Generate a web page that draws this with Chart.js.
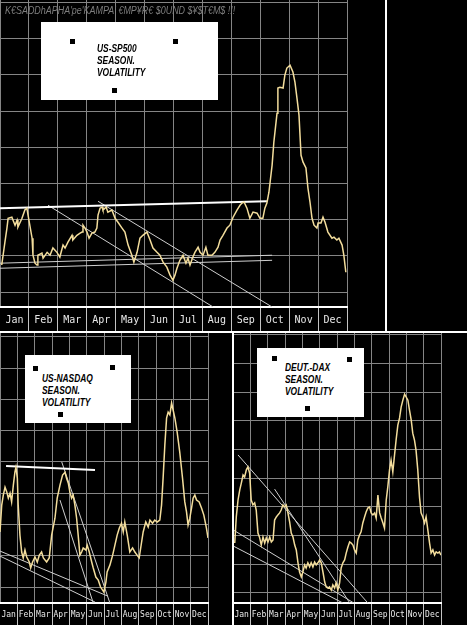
<!doctype html>
<html lang="en">
<head>
<meta charset="utf-8">
<title>Seasonal Volatility: US-SP500, US-NASDAQ, DEUT.-DAX</title>
<style>
* { margin: 0; padding: 0; }
body {
  background: #000;
  width: 467px;
  height: 625px;
  overflow: hidden;
  position: relative;
}
canvas { position: absolute; }
#spx { left: 0; top: 0; }
#ndx { left: 0; top: 333px; }
#dax { left: 233px; top: 333px; }
.rule { position: absolute; background: #fff; }
.head {
  position: absolute; left: 5px; top: 5px;
  font: italic 10px "Liberation Sans", sans-serif;
  color: #7d7d7d; white-space: nowrap;
  transform: scaleX(0.895); transform-origin: left top;
}
.box { position: absolute; background: #fff; }
.box p {
  position: absolute;
  font: italic bold 10.5px "Liberation Sans", sans-serif;
  line-height: 12px; color: #000; white-space: nowrap;
  transform: scaleX(0.8); transform-origin: left top;
}
.sq { position: absolute; width: 5px; height: 5px; background: #000; }
</style>
</head>
<body>
<canvas id="spx" width="385" height="331"></canvas>
<canvas id="ndx" width="232" height="292"></canvas>
<canvas id="dax" width="234" height="292"></canvas>

<div class="rule" style="left:385px; top:0; width:2px; height:331px;"></div>
<div class="rule" style="left:0; top:331px; width:467px; height:2px;"></div>
<div class="rule" style="left:232px; top:333px; width:2px; height:292px;"></div>

<div class="head">K€SADDhAPHA'pe'KAMPA' €MP¥R€ $0UND $¥$T€M$ !!!</div>

<div class="box" style="left:41px; top:22px; width:177px; height:78px;">
  <div class="sq" style="left:29px; top:17px;"></div>
  <div class="sq" style="left:132px; top:17px;"></div>
  <div class="sq" style="left:71px; top:66px;"></div>
  <p style="left:56px; top:20px;">US-SP500<br>SEASON.<br>VOLATILITY</p>
</div>
<div class="box" style="left:25px; top:355px; width:106px; height:68px;">
  <div class="sq" style="left:8px; top:11px;"></div>
  <div class="sq" style="left:85px; top:10px;"></div>
  <div class="sq" style="left:33px; top:57px;"></div>
  <p style="left:17px; top:17px;">US-NASDAQ<br>SEASON.<br>VOLATILITY</p>
</div>
<div class="box" style="left:257px; top:348px; width:107px; height:69px;">
  <div class="sq" style="left:15px; top:8px;"></div>
  <div class="sq" style="left:90px; top:9px;"></div>
  <div class="sq" style="left:48px; top:58px;"></div>
  <p style="left:28px; top:13px;">DEUT.-DAX<br>SEASON.<br>VOLATILITY</p>
</div>

<script src="https://cdn.jsdelivr.net/npm/chart.js@4"></script>
<script>
// month names on the label row, x runs in months 0..12
const months = ['Jan', 'Feb', 'Mar', 'Apr', 'May', 'Jun', 'Jul', 'Aug', 'Sep', 'Oct', 'Nov', 'Dec'];
const monthEdges = [0, 1, 2, 3, 4, 5, 6, 7, 8, 9, 10, 11, 12];

// US-SP500 seasonal volatility
const spxX = [0.06,0.17,0.24,0.28,0.41,0.52,0.59,0.62,0.76,0.86,
  0.93,0.97,1.11,1.14,1.21,1.28,1.31,1.45,1.49,1.63,
  1.73,1.83,1.97,2.07,2.18,2.25,2.35,2.49,2.52,2.66,
  2.77,2.84,2.87,2.94,3.01,3.08,3.18,3.28,3.35,3.39,
  3.46,3.53,3.56,3.67,3.73,3.87,3.98,4.08,4.22,4.32,
  4.43,4.56,4.63,4.74,4.84,4.94,5.08,5.19,5.29,5.43,
  5.53,5.64,5.77,5.88,5.98,6.05,6.12,6.22,6.33,6.43,
  6.50,6.57,6.67,6.74,6.85,6.92,7.02,7.12,7.19,7.33,
  7.43,7.54,7.61,7.71,7.85,7.95,8.06,8.20,8.30,8.37,
  8.44,8.54,8.64,8.75,8.89,8.99,9.09,9.16,9.23,9.30,
  9.41,9.47,9.58,9.61,9.68,9.79,9.85,9.92,10.03,10.13,
  10.20,10.27,10.34,10.41,10.48,10.58,10.65,10.72,10.79,10.86,
  10.96,11.00,11.10,11.17,11.24,11.34,11.48,11.55,11.65,11.72,
  11.83,11.89,11.96];
const spxY = [7.5,13.8,17.7,20.4,20.7,18.5,19.9,18.0,20.4,22.7,
  23.2,21.3,14.9,10.2,8.0,7.5,10.2,10.8,9.4,11.0,
  10.2,12.2,11.0,9.7,13.0,12.2,13.8,15.7,14.4,15.7,
  16.3,16.6,18.5,17.7,16.6,14.9,16.3,16.6,17.7,21.3,
  23.2,23.5,22.7,23.5,22.1,22.7,20.4,19.3,17.7,16.6,
  13.0,10.2,8.3,11.0,14.9,15.7,16.6,14.4,12.2,11.0,
  10.2,8.3,6.9,4.7,3.3,4.7,6.6,8.8,10.2,8.0,
  9.4,7.5,9.7,11.0,12.4,11.0,10.2,12.4,10.2,10.2,
  11.0,12.4,14.4,15.7,17.7,18.5,20.7,22.7,24.0,24.6,
  24.9,23.2,20.4,22.1,21.8,20.4,20.4,23.2,24.6,27.6,
  35.1,41.4,49.4,56.4,56.6,56.4,59.9,61.9,62.7,60.8,
  58.0,53.6,48.9,37.8,35.9,34.3,28.7,24.9,20.4,18.5,
  17.7,19.1,19.1,20.7,19.3,16.6,14.9,15.2,14.4,14.9,
  13.0,10.2,5.5];
// trend lines: [x1, y1, x2, y2]
const spxThick = [[0, 23.2, 9.23, 25.1]];
const spxThin = [[1.66, 24.0, 7.37, -4.1], [3.39, 25.1, 9.41, -4.1], [0, 8.0, 9.41, 10.2], [0, 6.6, 9.41, 8.8]];
const spxGrid = [0, 10, 20, 30, 40, 50, 60, 70, 80];

// US-NASDAQ seasonal volatility
const ndxX = [0.00,0.10,0.19,0.29,0.39,0.48,0.58,0.67,0.77,0.86,
  0.92,1.00,1.05,1.15,1.25,1.34,1.44,1.54,1.69,1.77,
  1.88,2.02,2.15,2.27,2.40,2.50,2.69,2.84,2.98,3.17,
  3.30,3.46,3.61,3.75,3.84,3.94,4.03,4.13,4.22,4.32,
  4.42,4.51,4.61,4.71,4.80,4.96,5.03,5.15,5.29,5.38,
  5.53,5.67,5.80,5.92,5.99,6.11,6.18,6.34,6.50,6.63,
  6.76,6.88,7.01,7.11,7.20,7.34,7.49,7.65,7.78,7.91,
  8.03,8.17,8.26,8.41,8.55,8.65,8.80,8.93,9.07,9.22,
  9.32,9.41,9.51,9.61,9.70,9.80,9.90,9.99,10.09,10.22,
  10.37,10.53,10.66,10.76,10.85,10.95,11.05,11.14,11.24,11.34,
  11.49,11.63,11.76,11.91,12.00];
const ndxY = [17.6,26.2,29.4,31.9,30.4,28.4,30.0,27.2,32.6,36.7,
  38.3,34.8,26.2,16.6,11.2,9.3,11.8,9.6,8.0,6.1,
  8.0,9.6,8.0,10.2,11.2,9.3,8.0,9.3,16.6,22.0,
  28.4,32.6,35.8,36.7,34.8,33.2,30.4,28.4,29.4,26.2,
  22.0,16.6,10.2,11.2,12.5,11.8,13.4,11.2,8.0,6.1,
  3.2,2.2,0.0,-1.0,-1.6,1.6,4.8,7.0,10.2,13.4,
  16.6,18.8,20.4,17.6,20.8,16.6,11.2,12.5,11.2,10.2,
  9.3,14.4,17.6,20.8,19.2,21.4,20.4,21.4,20.8,21.4,
  26.2,34.8,45.4,54.0,55.9,55.0,58.8,56.5,54.0,49.5,
  43.1,34.8,27.2,24.0,19.8,22.0,25.2,28.4,29.4,27.8,
  27.2,25.2,23.0,18.8,15.7];
const ndxThick = [[0.35, 38.7, 5.48, 37.4]];
const ndxThin = [[3.46, 27.8, 5.38, -5.1], [3.56, 40.0, 6.34, -5.1], [0, 11.5, 6.22, -2.9], [0, 9.9, 5.48, -4.8]];
const ndxGrid = [0, 10, 20, 30, 40, 50, 60, 70, 80];

// DEUT.-DAX seasonal volatility
const daxX = [0.10,0.19,0.29,0.39,0.48,0.58,0.67,0.77,0.86,0.96,
  1.05,1.15,1.25,1.34,1.44,1.54,1.63,1.73,1.83,1.92,
  2.02,2.12,2.21,2.31,2.40,2.50,2.59,2.69,2.78,2.88,
  2.98,3.07,3.17,3.27,3.36,3.46,3.56,3.65,3.75,3.84,
  3.94,4.03,4.13,4.22,4.32,4.42,4.51,4.61,4.71,4.80,
  4.90,5.00,5.09,5.19,5.29,5.38,5.48,5.57,5.67,5.76,
  5.86,5.95,6.05,6.15,6.24,6.34,6.44,6.53,6.63,6.73,
  6.82,6.92,7.01,7.11,7.20,7.30,7.39,7.49,7.59,7.68,
  7.78,7.88,7.97,8.07,8.17,8.26,8.36,8.46,8.55,8.65,
  8.74,8.84,8.93,9.03,9.12,9.22,9.32,9.41,9.51,9.61,
  9.70,9.80,9.90,9.99,10.09,10.18,10.28,10.37,10.47,10.56,
  10.66,10.76,10.85,10.95,11.05,11.14,11.24,11.34,11.43,11.53,
  11.63,11.72,11.82,11.91,12.00];
const daxY = [17.4,26.5,32.4,35.9,38.3,41.1,40.4,42.9,43.9,41.8,
  32.4,30.7,31.4,28.9,20.9,19.2,16.7,19.5,17.4,19.2,
  17.8,19.5,17.8,18.5,25.4,26.5,27.2,27.9,28.9,30.7,
  30.0,30.7,27.9,24.7,20.9,19.5,16.7,15.0,10.5,7.3,
  5.6,7.3,9.8,8.7,10.5,9.1,10.5,9.1,10.8,9.8,
  10.5,11.5,10.5,7.3,3.8,2.1,1.7,2.1,1.0,2.8,
  1.7,3.5,1.0,3.5,8.7,10.5,11.5,13.9,16.0,17.8,
  17.4,16.7,15.0,13.9,18.5,20.2,21.3,24.4,26.5,28.2,
  29.6,30.0,27.9,27.2,27.9,26.1,34.1,27.9,26.1,24.4,
  22.6,32.4,36.9,42.9,46.3,42.2,48.1,53.3,58.5,61.0,
  64.8,67.2,69.3,68.3,67.2,63.8,60.3,55.7,53.3,49.8,
  42.9,33.4,27.9,26.5,24.4,26.5,22.0,17.4,13.9,15.0,
  13.2,14.3,13.9,14.3,13.2];
const daxThick = [];
const daxThin = [[0.29, 48.1, 7.78, -3.5], [2.40, 36.2, 6.74, -3.5], [0, 22.0, 6.97, -3.5], [0, 16.4, 6.34, -3.5]];
const daxGrid = [0, 10, 20, 30, 40, 50, 60, 70, 80, 90];

// one straight helper line between two points
function trend(t, color, width) {
  return {
    data: [{x: t[0], y: t[1]}, {x: t[2], y: t[3]}],
    borderColor: color,
    borderWidth: width,
    pointRadius: 0
  };
}

// setup + config for one panel
function volChart(id, xs, ys, thick, thin, yMin, yMax, yGrid, rowH, padRight, fontSize, labelPad) {
  const datasets = [{
    data: xs.map((x, i) => ({x: x, y: ys[i]})),
    borderColor: '#f3dd9c',
    borderWidth: 1.5,
    pointRadius: 0,
    tension: 0
  }];
  thick.forEach(t => datasets.push(trend(t, '#ffffff', 2)));
  thin.forEach(t => datasets.push(trend(t, '#cfcfcf', 1)));

  return new Chart(document.getElementById(id), {
    type: 'line',
    data: { datasets },
    options: {
      responsive: false,
      animation: false,
      events: [],
      layout: { padding: { left: 0, right: padRight, top: 0, bottom: 0 } },
      plugins: {
        legend: { display: false },
        tooltip: { enabled: false }
      },
      scales: {
        x: {
          type: 'linear',
          min: 0,
          max: 12,
          position: 'bottom',
          afterBuildTicks: s => { s.ticks = monthEdges.map(v => ({value: v})); },
          afterFit: s => { s.height = 0; },
          ticks: { display: false },
          border: { display: false },
          grid: { color: '#858585', drawTicks: false }
        },
        m: {
          type: 'category',
          labels: months,
          position: 'bottom',
          offset: true,
          afterFit: s => { s.height = rowH; },
          ticks: {
            color: '#e8e8e8',
            font: { family: 'DejaVu Sans Mono', size: fontSize },
            padding: labelPad,
            maxRotation: 0,
            autoSkip: false
          },
          border: { display: true, color: '#ffffff', width: 2 },
          grid: { offset: true, drawOnChartArea: false, drawTicks: true, tickLength: rowH, color: '#c4c4c4' }
        },
        y: {
          min: yMin,
          max: yMax,
          afterBuildTicks: s => { s.ticks = yGrid.map(v => ({value: v})); },
          afterFit: s => { s.width = 0; },
          ticks: { display: false },
          border: { display: false },
          grid: { color: '#858585', drawTicks: false }
        }
      }
    }
  });
}

// render
volChart('spx', spxX, spxY, spxThick, spxThin, -4.1, 80.7, spxGrid, 24, 38, 10, -17);
volChart('ndx', ndxX, ndxY, ndxThick, ndxThin, -5.1, 81.2, ndxGrid, 22, 24, 8, -15);
volChart('dax', daxX, daxY, daxThick, daxThin, -3.5, 90.6, daxGrid, 22, 26, 8, -15);
</script>
</body>
</html>
